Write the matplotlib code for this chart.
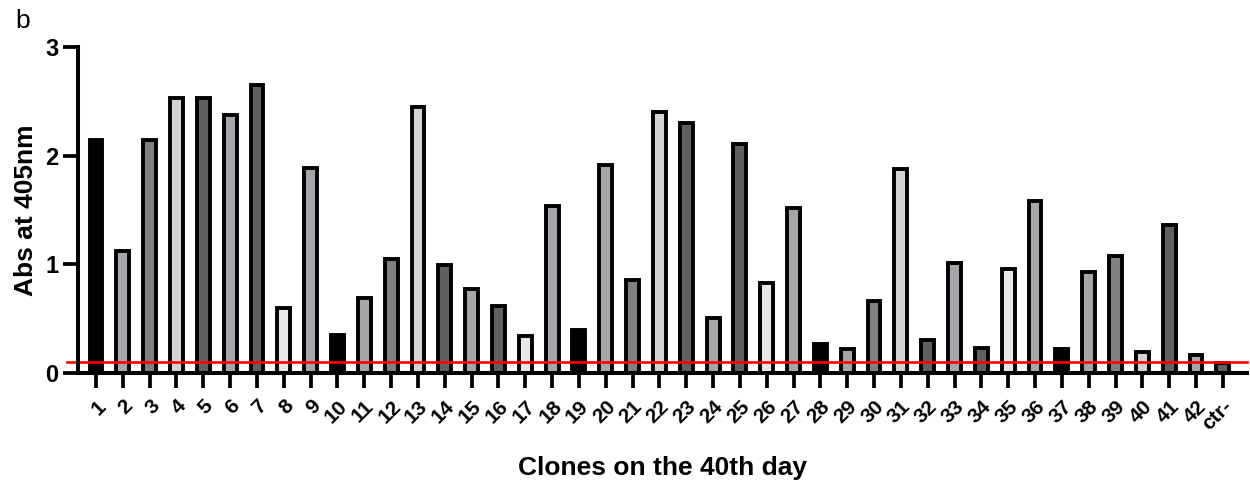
import matplotlib
matplotlib.use("Agg")
import matplotlib.pyplot as plt
import numpy as np

plt.rcParams["font.family"] = ["Liberation Sans", "DejaVu Sans"]

# absorbance of each clone at 405 nm, plus the negative control
clones = [str(i) for i in range(1, 43)] + ["ctr-"]
absorbance = [2.14, 1.12, 2.14, 2.53, 2.53, 2.37, 2.65, 0.60, 1.89, 0.35,
              0.69, 1.05, 2.45, 0.99, 0.77, 0.62, 0.34, 1.54, 0.40, 1.91,
              0.86, 2.40, 2.30, 0.51, 2.11, 0.83, 1.52, 0.27, 0.22, 0.66,
              1.88, 0.30, 1.01, 0.23, 0.96, 1.58, 0.22, 0.93, 1.08, 0.19,
              1.36, 0.17, 0.09]
cutoff = 0.1

# grey shades repeat every nine clones
shades = ["#000000", "#a6a6aa", "#808080", "#d4d4d4", "#606060",
          "#a6a6aa", "#606060", "#e8e8e8", "#a6a6aa"]
colors = [shades[i % len(shades)] for i in range(len(clones))]

fig = plt.figure(figsize=(12.5, 4.83), dpi=100)
ax = fig.add_axes([0.0624, 0.2277, 0.9352, 0.675])

x = np.arange(len(clones))
ax.bar(x, absorbance, width=0.48, color=colors, edgecolor="black",
       linewidth=2.8, zorder=2)
ax.axhline(cutoff, xmin=-0.0095, xmax=1, color="#ff0000", lw=1.9,
           zorder=4, clip_on=False)

ax.set_xlim(-0.67, 42.9)
ax.set_ylim(0, 3)
ax.set_yticks([0, 1, 2, 3])
ax.set_xticks(x)
ax.set_xticklabels(clones, rotation=45, ha="right", rotation_mode="anchor",
                   fontsize=15, fontweight="bold")
for lab in ax.get_yticklabels():
    lab.set_fontsize(17)
    lab.set_fontweight("bold")

for side in ["top", "right"]:
    ax.spines[side].set_visible(False)
for side in ["left", "bottom"]:
    ax.spines[side].set_linewidth(2.9)
    ax.spines[side].set_zorder(5)
ax.tick_params(axis="both", length=11, width=2.7, pad=3)
ax.tick_params(axis="x", pad=6)

ax.set_ylabel("Abs at 405nm", fontsize=19, fontweight="bold", labelpad=5)
ax.set_xlabel("Clones on the 40th day", fontsize=19, fontweight="bold",
              labelpad=16)
fig.text(0.012, 1 - 9 / 483, "b", fontsize=19, va="top")

fig.savefig("out.png", dpi=100)
